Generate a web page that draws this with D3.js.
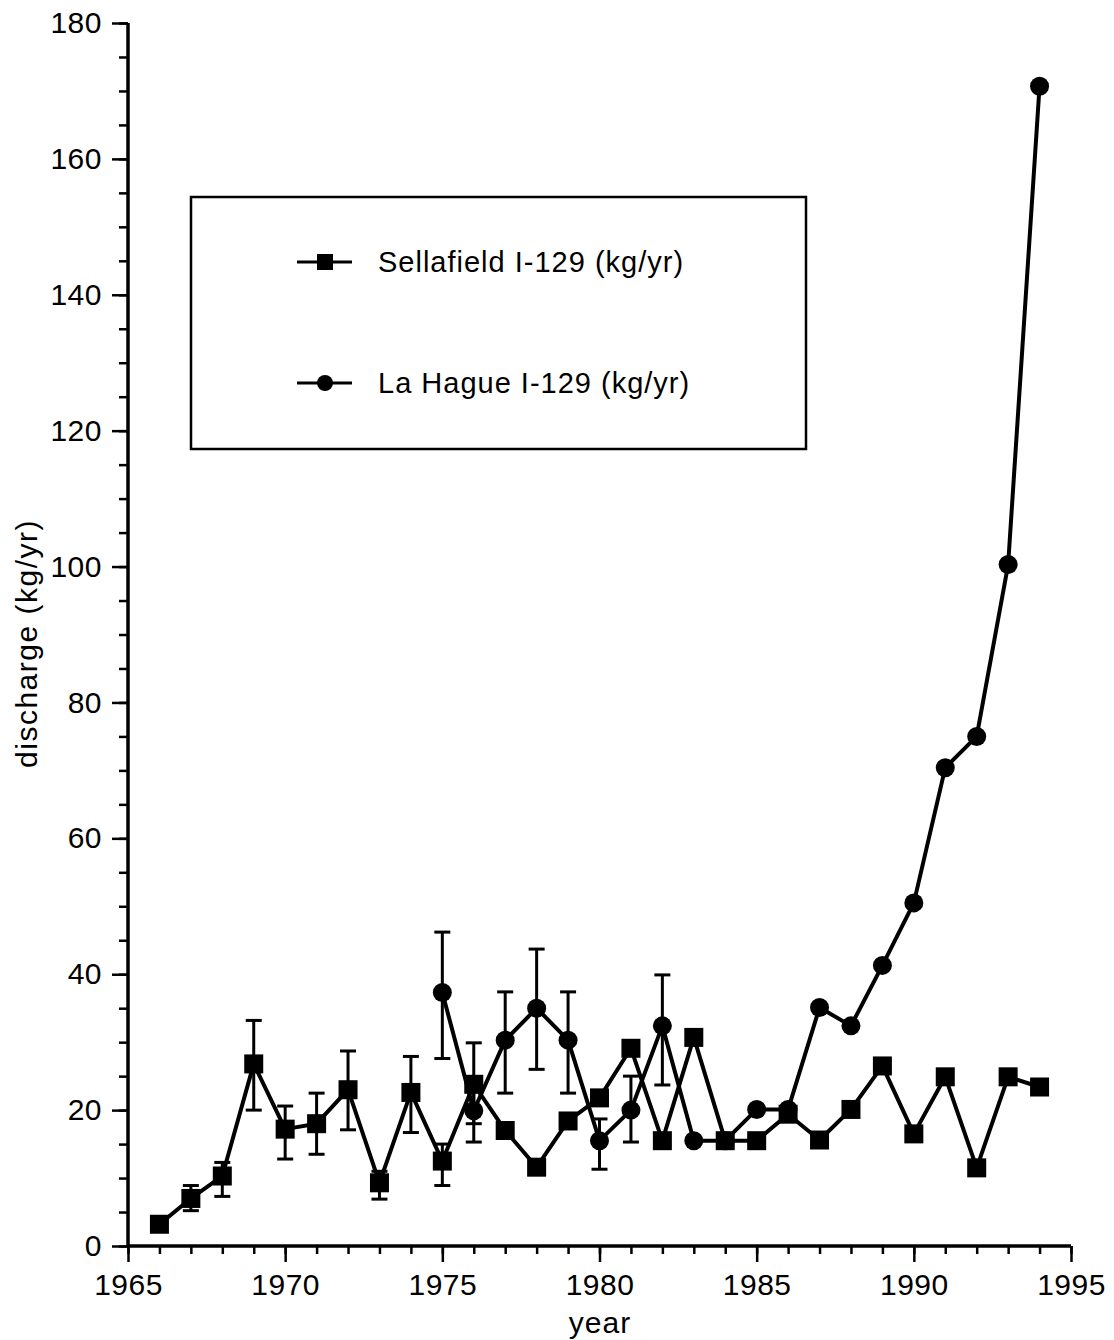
<!DOCTYPE html>
<html>
<head>
<meta charset="utf-8">
<script src="https://cdnjs.cloudflare.com/ajax/libs/d3/7.8.5/d3.min.js"></script>
<style>
  html, body { margin: 0; padding: 0; background: #fff; }
  svg text { font-family: "Liberation Sans", Arial, Helvetica, sans-serif; fill: #000; }
</style>
</head>
<body>
<svg id="chart" width="1114" height="1340"></svg>
<script>
// ---- data ----
const sellafieldYears = [1966,1967,1968,1969,1970,1971,1972,1973,1974,1975,1976,1977,1978,1979,1980,1981,1982,1983,1984,1985,1986,1987,1988,1989,1990,1991,1992,1993,1994];
const sellafieldValues = [3.2,7.0,10.3,26.8,17.2,18.0,23.0,9.3,22.6,12.5,23.8,17.0,11.6,18.4,21.8,29.1,15.5,30.7,15.5,15.5,19.4,15.6,20.1,26.5,16.5,24.9,11.5,24.9,23.4];
const sellafieldErrYears = [1967,1968,1969,1970,1971,1972,1973,1974,1975,1976];
const sellafieldErrLow  = [5.2,7.3,20.0,12.8,13.5,17.1,6.9,16.7,8.9,18.0];
const sellafieldErrHigh = [8.9,12.3,33.2,20.6,22.5,28.7,11.0,27.9,15.0,29.9];

const lahagueYears = [1975,1976,1977,1978,1979,1980,1981,1982,1983,1984,1985,1986,1987,1988,1989,1990,1991,1992,1993,1994];
const lahagueValues = [37.3,19.9,30.3,35.0,30.3,15.5,20.0,32.4,15.5,15.5,20.1,20.1,35.1,32.4,41.3,50.5,70.4,75.0,100.3,170.7];
const lahagueErrYears = [1975,1976,1977,1978,1979,1980,1981,1982];
const lahagueErrLow  = [27.6,15.3,22.5,26.0,22.5,11.3,15.3,23.7];
const lahagueErrHigh = [46.2,24.0,37.4,43.7,37.4,18.7,25.0,39.9];

const xTickValues = [1965,1970,1975,1980,1985,1990,1995];
const yTickValues = [0,20,40,60,80,100,120,140,160,180];
const seriesNames = ["Sellafield I-129 (kg/yr)", "La Hague I-129 (kg/yr)"];
const xLabel = "year";
const yLabel = "discharge (kg/yr)";

// ---- layout ----
const svg = d3.select("#chart");
const x = d3.scaleLinear().domain([1965, 1995]).range([128, 1071]);
const y = d3.scaleLinear().domain([0, 180]).range([1246, 23]);

const g = svg.append("g");
const FONT = '"Liberation Sans", Arial, Helvetica, sans-serif';

// x axis
const xAxisMinor = d3.axisBottom(x).tickValues(d3.range(1965, 1996, 1)).tickSize(8).tickFormat("");
const xAxisMajor = d3.axisBottom(x).tickValues(xTickValues).tickSize(16).tickPadding(5).tickFormat(d3.format("d"));
const gxMinor = g.append("g").attr("transform", `translate(0,${y(0)})`).call(xAxisMinor);
const gx = g.append("g").attr("transform", `translate(0,${y(0)})`).call(xAxisMajor);
[gxMinor, gx].forEach(a => {
  a.select(".domain").attr("stroke", "#000").attr("stroke-width", 3).attr("d", `M${x(1965)},0H${x(1995)}`);
  a.selectAll(".tick line").attr("stroke", "#000").attr("stroke-width", 2.5);
});
gx.selectAll(".tick text").attr("font-size", 30).attr("letter-spacing", 0.5).attr("dy", "0.92em").attr("font-family", FONT);

// y axis
const yAxisMinor = d3.axisLeft(y).tickValues(d3.range(0, 181, 5)).tickSize(9).tickFormat("");
const yAxisMajor = d3.axisLeft(y).tickValues(yTickValues).tickSize(16).tickPadding(10).tickFormat(d3.format("d"));
const gyMinor = g.append("g").attr("transform", `translate(${x(1965)},0)`).call(yAxisMinor);
const gy = g.append("g").attr("transform", `translate(${x(1965)},0)`).call(yAxisMajor);
[gyMinor, gy].forEach(a => {
  a.select(".domain").attr("stroke", "#000").attr("stroke-width", 3).attr("d", `M0,${y(180)}V${y(0)}`);
  a.selectAll(".tick line").attr("stroke", "#000").attr("stroke-width", 2.5);
});
gy.selectAll(".tick text").attr("font-size", 30).attr("letter-spacing", 0.5).attr("font-family", FONT);

// axis labels
svg.append("text").attr("x", 600).attr("y", 1333).attr("text-anchor", "middle")
  .attr("font-size", 30).attr("letter-spacing", 1).text(xLabel);
svg.append("text").attr("transform", `translate(37,${(y(0)+y(180))/2 + 9}) rotate(-90)`)
  .attr("text-anchor", "middle").attr("font-size", 30).attr("letter-spacing", 1.5).text(yLabel);

// ---- series ----
const line = d3.line().x(d => x(d[0])).y(d => y(d[1]));
const lh = lahagueYears.map((yr, i) => [yr, lahagueValues[i]]);
const sf = sellafieldYears.map((yr, i) => [yr, sellafieldValues[i]]);

function errorBars(years, low, high) {
  const eg = svg.append("g").attr("stroke", "#000").attr("stroke-width", 3);
  years.forEach((yr, i) => {
    const cx = x(yr);
    eg.append("line").attr("x1", cx).attr("x2", cx).attr("y1", y(low[i])).attr("y2", y(high[i]));
    eg.append("line").attr("x1", cx - 8).attr("x2", cx + 8).attr("y1", y(low[i])).attr("y2", y(low[i]));
    eg.append("line").attr("x1", cx - 8).attr("x2", cx + 8).attr("y1", y(high[i])).attr("y2", y(high[i]));
  });
}

// La Hague
errorBars(lahagueErrYears, lahagueErrLow, lahagueErrHigh);
svg.append("path").datum(lh).attr("d", line).attr("fill", "none").attr("stroke", "#000").attr("stroke-width", 4).attr("stroke-linejoin", "round");
svg.append("g").selectAll("circle").data(lh).join("circle")
  .attr("cx", d => x(d[0])).attr("cy", d => y(d[1])).attr("r", 9.5).attr("fill", "#000");

// Sellafield
errorBars(sellafieldErrYears, sellafieldErrLow, sellafieldErrHigh);
svg.append("path").datum(sf).attr("d", line).attr("fill", "none").attr("stroke", "#000").attr("stroke-width", 4).attr("stroke-linejoin", "round");
svg.append("g").selectAll("rect").data(sf).join("rect")
  .attr("x", d => x(d[0]) - 9.5).attr("y", d => y(d[1]) - 9.5).attr("width", 19).attr("height", 19).attr("fill", "#000");

// ---- legend ----
const lg = svg.append("g");
lg.append("rect").attr("x", 191).attr("y", 197).attr("width", 615).attr("height", 252)
  .attr("fill", "#fff").attr("stroke", "#000").attr("stroke-width", 2.5);
const legendRows = [{ y: 262, shape: "square" }, { y: 383, shape: "circle" }];
legendRows.forEach((r, i) => {
  lg.append("line").attr("x1", 297).attr("x2", 352).attr("y1", r.y).attr("y2", r.y).attr("stroke", "#000").attr("stroke-width", 3);
  if (r.shape === "square") {
    lg.append("rect").attr("x", 317).attr("y", r.y - 8).attr("width", 16).attr("height", 16).attr("fill", "#000");
  } else {
    lg.append("circle").attr("cx", 325).attr("cy", r.y).attr("r", 8).attr("fill", "#000");
  }
  lg.append("text").attr("x", 378).attr("y", r.y + 10).attr("font-size", 29).attr("letter-spacing", 1).text(seriesNames[i]);
});
</script>
</body>
</html>
